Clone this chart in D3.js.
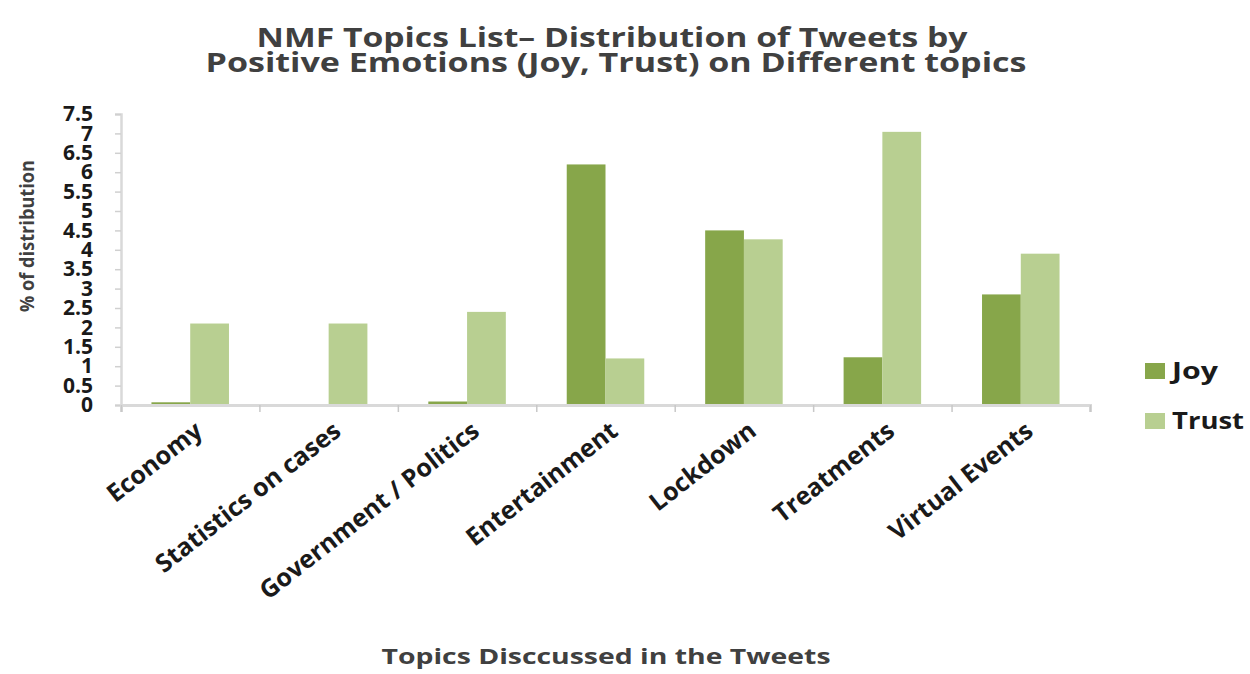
<!DOCTYPE html>
<html>
<head>
<meta charset="utf-8">
<script src="https://cdn.jsdelivr.net/npm/d3@7"></script>
<style>
  html, body { margin: 0; padding: 0; background: #ffffff; }
  svg { display: block; }
  text { font-family: "Open Sans", "DejaVu Sans", sans-serif; font-weight: 700; }
</style>
</head>
<body>
<svg id="chart" width="1250" height="674"></svg>
<script>
// ---- data ----
const categories = ["Economy", "Statistics on cases", "Government / Politics", "Entertainment", "Lockdown", "Treatments", "Virtual Events"];
const seriesNames = ["Joy", "Trust"];
const joyValues   = [0.07, 0.0, 0.09, 6.2, 4.5, 1.23, 2.85];
const trustValues = [2.1, 2.1, 2.4, 1.2, 4.27, 7.04, 3.9];
const yTickValues = [0, 0.5, 1, 1.5, 2, 2.5, 3, 3.5, 4, 4.5, 5, 5.5, 6, 6.5, 7, 7.5];
const titleLines = ["NMF Topics List\u2013 Distribution of Tweets by", "Positive Emotions (Joy, Trust) on Different topics"];
const yAxisTitle = "% of distribution";
const xAxisTitle = "Topics Disccussed in the Tweets";
const colors = ["#87a64a", "#b8cf91"];

// ---- layout ----
const svg = d3.select("#chart");
const plot = { left: 121, right: 1090, top: 114, bottom: 405 };

const x0 = d3.scaleBand().domain(categories).range([plot.left, plot.right]).paddingInner(0.44).paddingOuter(0.22);
const x1 = d3.scaleBand().domain(seriesNames).range([0, x0.bandwidth()]).padding(0);
const y = d3.scaleLinear().domain([0, 7.5]).range([plot.bottom, plot.top]);
const color = d3.scaleOrdinal().domain(seriesNames).range(colors);

const rows = categories.map((c, i) => ({ cat: c, values: [joyValues[i], trustValues[i]] }));

// bars
const groups = svg.append("g").selectAll("g").data(rows).join("g")
  .attr("transform", d => `translate(${x0(d.cat)},0)`);
groups.selectAll("rect").data(d => seriesNames.map((s, j) => ({ s, v: d.values[j] })))
  .join("rect")
  .attr("x", d => x1(d.s))
  .attr("width", x1.bandwidth())
  .attr("y", d => y(d.v))
  .attr("height", d => y(0) - y(d.v))
  .attr("fill", d => color(d.s));

// y axis
const yAxis = d3.axisLeft(y).tickValues(yTickValues).tickSize(6).tickPadding(22)
  .tickFormat(d => String(d));
const yg = svg.append("g").attr("transform", `translate(${plot.left},0)`).call(yAxis);
yg.select(".domain").attr("stroke", "#d9d9d9").attr("stroke-width", 2.5);
yg.selectAll(".tick line").attr("stroke", "#d0d0d0").attr("stroke-width", 1.5);
yg.selectAll(".tick text").attr("fill", "#1a1a1a").style("font-size", "21px").style("font-weight", 700);

// x axis: ticks at band boundaries
const bandEdge = d3.scaleLinear().domain([0, categories.length]).range([plot.left, plot.right]);
const xg = svg.append("g").attr("transform", `translate(0,${plot.bottom})`)
  .call(d3.axisBottom(bandEdge).tickValues(d3.range(categories.length + 1)).tickSize(7).tickFormat(""));
xg.select(".domain").attr("stroke", "#d9d9d9").attr("stroke-width", 3);
xg.selectAll(".tick line").attr("stroke", "#c8c8c8").attr("stroke-width", 1.5);

// category labels, rotated
const xl = d3.axisBottom(x0).tickSize(0).tickPadding(0);
const xlg = svg.append("g").attr("transform", `translate(14,${plot.bottom})`).call(xl);
xlg.select(".domain").remove();
xlg.selectAll(".tick text")
  .attr("fill", "#1a1a1a")
  .style("font-size", "25px")
  .attr("text-anchor", "end")
  .attr("dy", "0")
  .attr("transform", "translate(0,29) rotate(-38)");

// titles
svg.append("text").attr("x", 612).attr("y", 47).attr("text-anchor", "middle")
  .attr("fill", "#404040").style("font-size", "26px")
  .attr("textLength", 711).attr("lengthAdjust", "spacingAndGlyphs").text(titleLines[0]);
svg.append("text").attr("x", 616).attr("y", 72).attr("text-anchor", "middle")
  .attr("fill", "#404040").style("font-size", "26px")
  .attr("textLength", 821).attr("lengthAdjust", "spacingAndGlyphs").text(titleLines[1]);

svg.append("text").attr("transform", "translate(34,236) rotate(-90)").attr("text-anchor", "middle")
  .attr("fill", "#404040").style("font-size", "20px")
  .attr("textLength", 152).attr("lengthAdjust", "spacingAndGlyphs").text(yAxisTitle);

svg.append("text").attr("x", 606).attr("y", 664).attr("text-anchor", "middle")
  .attr("fill", "#404040").style("font-size", "21px")
  .attr("textLength", 449).attr("lengthAdjust", "spacingAndGlyphs").text(xAxisTitle);

// legend
const legendWidths = [46, 72];
const legend = svg.append("g").selectAll("g").data(seriesNames).join("g")
  .attr("transform", (d, i) => `translate(1145,${363 + i * 50})`);
legend.append("rect").attr("width", 20).attr("height", 16).attr("fill", d => color(d));
legend.append("text").attr("x", 27).attr("y", 16).attr("fill", "#1a1a1a")
  .style("font-size", "23px")
  .attr("textLength", (d, i) => legendWidths[i]).attr("lengthAdjust", "spacingAndGlyphs")
  .text(d => d);
</script>
</body>
</html>
